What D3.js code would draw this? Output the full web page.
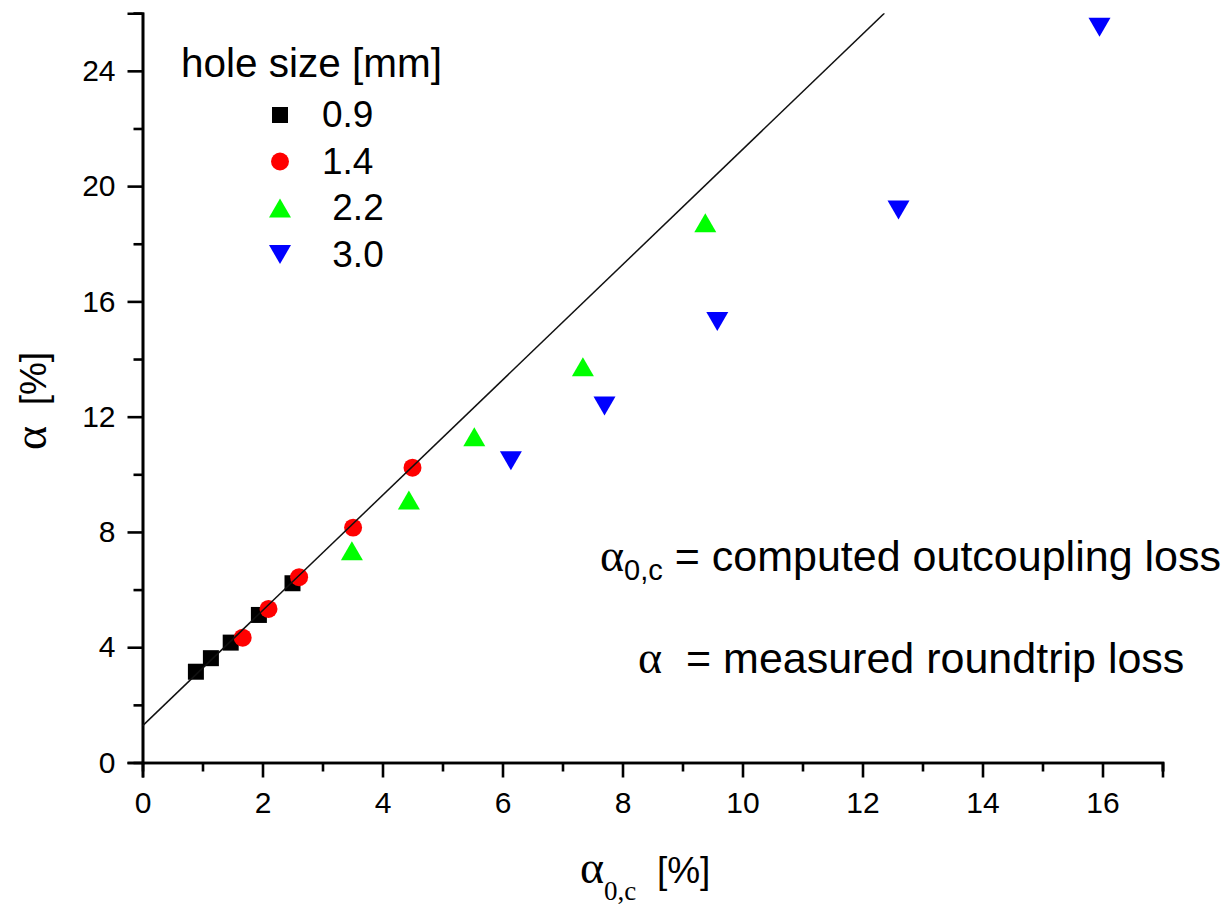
<!DOCTYPE html>
<html>
<head>
<meta charset="utf-8">
<script src="https://cdn.jsdelivr.net/npm/d3@7"></script>
<style>
  body { margin: 0; background: #fff; }
  text { font-family: "Liberation Sans", Arial, sans-serif; fill: #000; }
  .serif { font-family: "Liberation Serif", "Times New Roman", serif; }
  .tick text { font-size: 30px; }
</style>
</head>
<body>
<script>
// data: alpha_0,c [%] vs alpha [%]
var sizes = ["0.9", "1.4", "2.2", "3.0"];
var legendLabels = ["0.9", "1.4", " 2.2", " 3.0"];
var colors = ["#000000", "#ff0000", "#00ff00", "#0000ff"];
var shapes = ["square", "circle", "up", "down"];

var x09 = [0.89, 1.14, 1.47, 1.94, 2.50];
var y09 = [3.15, 3.62, 4.16, 5.12, 6.22];
var x14 = [1.67, 2.10, 2.61, 3.51, 4.50];
var y14 = [4.33, 5.33, 6.43, 8.15, 10.23];
var x22 = [3.49, 4.44, 5.53, 7.34, 9.38];
var y22 = [7.35, 9.11, 11.30, 13.73, 18.73];
var x30 = [6.14, 7.70, 9.58, 12.60, 15.95];
var y30 = [10.47, 12.37, 15.30, 19.17, 25.51];

var fitIntercept = 1.27;
var fitSlope = 2.0;

var xMajor = [0, 2, 4, 6, 8, 10, 12, 14, 16];
var xMinor = [1, 3, 5, 7, 9, 11, 13, 15, 17];
var yMajor = [0, 4, 8, 12, 16, 20, 24];
var yMinor = [2, 6, 10, 14, 18, 22, 26];

var W = 1232, H = 905;
var mLeft = 142.5, mTop = 13.2, plotW = 1020, plotH = 749.3;

var svg = d3.select("body").append("svg").attr("width", W).attr("height", H);

var x = d3.scaleLinear().domain([0, 17]).range([mLeft, mLeft + plotW]);
var y = d3.scaleLinear().domain([0, 26]).range([mTop + plotH, mTop]);

svg.append("defs").append("clipPath").attr("id", "clip")
  .append("rect").attr("x", mLeft).attr("y", mTop).attr("width", plotW).attr("height", plotH);

// axes (minor and major ticks in their own groups)
svg.append("g").attr("transform", "translate(0," + y(0) + ")")
  .call(d3.axisBottom(x).tickValues(xMinor).tickSize(9).tickFormat(""));
var gx = svg.append("g").attr("transform", "translate(0," + y(0) + ")")
  .call(d3.axisBottom(x).tickValues(xMajor).tickSize(15).tickPadding(11).tickFormat(d3.format("d")));
svg.append("g").attr("transform", "translate(" + x(0) + ",0)")
  .call(d3.axisLeft(y).tickValues(yMinor).tickSize(9).tickFormat(""));
var gy = svg.append("g").attr("transform", "translate(" + x(0) + ",0)")
  .call(d3.axisLeft(y).tickValues(yMajor).tickSize(15).tickPadding(12).tickFormat(d3.format("d")));

svg.selectAll(".domain").attr("stroke-width", 2.6).attr("stroke", "#000");
svg.selectAll(".tick line").attr("stroke-width", 2.6).attr("stroke", "#000");
svg.selectAll(".tick text").attr("font-size", 30).attr("fill", "#000");
gx.selectAll(".tick text").attr("dy", "0.8em");

// markers
function markerPath(shape) {
  if (shape == "square") return "M-8,-8H8V8H-8Z";
  if (shape == "circle") return d3.symbol().type(d3.symbolCircle).size(254)();
  if (shape == "up") return "M0,-9.5L11,9.5L-11,9.5Z";
  return "M0,9.5L11,-9.5L-11,-9.5Z";
}

var series = [
  {xs: x09, ys: y09},
  {xs: x14, ys: y14},
  {xs: x22, ys: y22},
  {xs: x30, ys: y30}
];

series.forEach(function(s, i) {
  svg.append("g").selectAll("path").data(s.xs).enter().append("path")
    .attr("d", markerPath(shapes[i]))
    .attr("fill", colors[i])
    .attr("transform", function(d, j) { return "translate(" + x(d) + "," + y(s.ys[j]) + ")"; });
});

// fitted line
var fitX = [0, (26 - fitIntercept) / fitSlope];
svg.append("path")
  .attr("clip-path", "url(#clip)")
  .attr("fill", "none").attr("stroke", "#111").attr("stroke-width", 1.5)
  .attr("d", d3.line().x(function(d) { return x(d); }).y(function(d) { return y(fitIntercept + fitSlope * d); })(fitX));

// legend
var leg = svg.append("g");
leg.append("text").attr("x", 181).attr("y", 77).style("font-size", "40.5px").text("hole size [mm]");
sizes.forEach(function(s, i) {
  var cy = 115 + i * 46.5;
  leg.append("path").attr("d", markerPath(shapes[i])).attr("fill", colors[i])
    .attr("transform", "translate(280," + cy + ")");
  leg.append("text").attr("x", 322).attr("y", cy + 12).style("font-size", "37px")
    .style("white-space", "pre").text(legendLabels[i]);
});

// annotations
var a1 = svg.append("text").attr("x", 600).attr("y", 571).style("font-size", "43px");
a1.append("tspan").attr("class", "serif").style("font-size", "46px").text("\u03b1");
a1.append("tspan").attr("dy", 9).style("font-size", "29px").text("0,c");
a1.append("tspan").attr("dy", -9).text(" = computed outcoupling loss");

var a2 = svg.append("text").attr("x", 638).attr("y", 673).style("font-size", "43px").style("white-space", "pre");
a2.append("tspan").attr("class", "serif").style("font-size", "46px").text("\u03b1");
a2.append("tspan").text("  = measured roundtrip loss");

// axis titles
var xt = svg.append("text").attr("x", 580).attr("y", 883).style("font-size", "37px").style("white-space", "pre");
xt.append("tspan").attr("class", "serif").style("font-size", "46px").text("\u03b1");
xt.append("tspan").attr("class", "serif").attr("dy", 17).style("font-size", "27px").text("0,c");
xt.append("tspan").attr("dy", -17).text("  [%]");

var yt = svg.append("text").attr("transform", "translate(46,450) rotate(-90)").style("font-size", "37px").style("white-space", "pre");
yt.append("tspan").attr("class", "serif").style("font-size", "46px").text("\u03b1");
yt.append("tspan").text("  [%]");
</script>
</body>
</html>
